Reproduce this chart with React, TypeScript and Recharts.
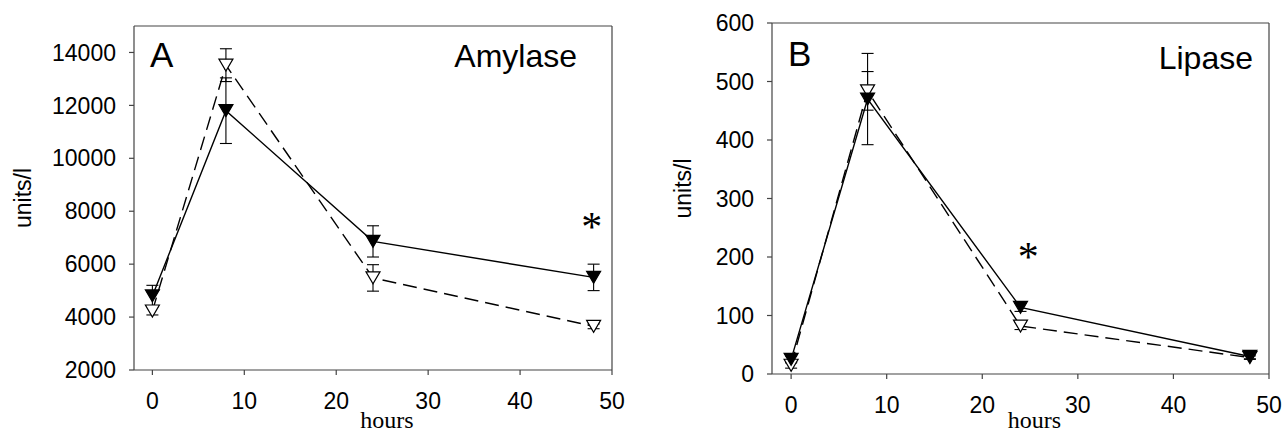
import React from 'react';
import {
  LineChart,
  Line,
  XAxis,
  YAxis,
  ErrorBar,
  ReferenceLine,
  ReferenceDot,
  Label,
} from 'recharts';

// ---------- data ----------
const hours = [0, 8, 24, 48];
const xTicks = [0, 10, 20, 30, 40, 50];

const amylaseTicks = [2000, 4000, 6000, 8000, 10000, 12000, 14000];
const amylaseSolid = [4800, 11800, 6860, 5500];
const amylaseSolidErr = [400, 1240, 590, 500];
const amylaseOpen = [4230, 13520, 5480, 3650];
const amylaseOpenErr = [150, 620, 500, 90];

const lipaseTicks = [0, 100, 200, 300, 400, 500, 600];
const lipaseSolid = [25, 470, 114, 30];
const lipaseSolidErr = [6, 78, 7, 4];
const lipaseOpen = [15, 484, 82, 28];
const lipaseOpenErr = [5, 33, 6, 3];

const amylaseRows = hours.map((h, i) => ({
  h,
  s: amylaseSolid[i],
  se: amylaseSolidErr[i],
  o: amylaseOpen[i],
  oe: amylaseOpenErr[i],
}));
const lipaseRows = hours.map((h, i) => ({
  h,
  s: lipaseSolid[i],
  se: lipaseSolidErr[i],
  o: lipaseOpen[i],
  oe: lipaseOpenErr[i],
}));

// ---------- styles ----------
const SANS = '"Liberation Sans", Arial, Helvetica, sans-serif';
const SERIF = '"Liberation Serif", "Times New Roman", serif';
const AXIS = '#444';

function DownTriangle(props: any) {
  const { cx, cy, filled } = props;
  if (cx == null || cy == null || isNaN(cx) || isNaN(cy)) return null;
  const hw = 7;
  const h = 6;
  return (
    <path
      d={`M${cx - hw},${cy - h}L${cx + hw},${cy - h}L${cx},${cy + h}Z`}
      fill={filled ? '#000' : '#fff'}
      stroke="#000"
      strokeWidth={1.2}
    />
  );
}

type PanelProps = {
  data: any[];
  width: number;
  height: number;
  margin: { top: number; right: number; bottom: number; left: number };
  yAxisWidth: number;
  xAxisHeight: number;
  yDomain: [number, number];
  yTicks: number[];
  letter: string;
  name: string;
  letterDy: number;
  nameDx: number;
  nameDy: number;
  star: { x: number; y: number };
  yLabelX: number;
  yLabelDy: number;
  xLabelDy: number;
};

function Panel(p: PanelProps) {
  const topLabel = (props: any) => {
    const vb = props.viewBox || {};
    return (
      <g>
        <text x={vb.x + 16} y={vb.y + p.letterDy} fontFamily={SANS} fontSize={35} fill="#000">
          {p.letter}
        </text>
        <text
          x={vb.x + vb.width - p.nameDx}
          y={vb.y + p.nameDy}
          fontFamily={SANS}
          fontSize={32}
          fill="#000"
          textAnchor="end"
        >
          {p.name}
        </text>
      </g>
    );
  };
  const yLabel = (props: any) => {
    const vb = props.viewBox || {};
    const cx = vb.x + p.yLabelX;
    const cy = vb.y + vb.height / 2 + p.yLabelDy;
    return (
      <text
        x={cx}
        y={cy}
        transform={`rotate(-90, ${cx}, ${cy})`}
        textAnchor="middle"
        dominantBaseline="central"
        fontFamily={SANS}
        fontSize={23}
        fill="#000"
      >
        units/l
      </text>
    );
  };
  const xLabel = (props: any) => {
    const vb = props.viewBox || {};
    return (
      <text
        x={vb.x + vb.width / 2 + 14}
        y={vb.y + p.xLabelDy}
        textAnchor="middle"
        fontFamily={SERIF}
        fontSize={24}
        fill="#000"
      >
        hours
      </text>
    );
  };
  const starLabel = (props: any) => {
    const vb = props.viewBox || {};
    const cx = vb.x + (vb.width || 0) / 2;
    const cy = vb.y + (vb.height || 0) / 2;
    return (
      <text x={cx} y={cy + 20} textAnchor="middle" fontFamily={SERIF} fontSize={42} fill="#000">
        *
      </text>
    );
  };

  return (
    <LineChart width={p.width} height={p.height} data={p.data} margin={p.margin}>
      <XAxis
        dataKey="h"
        type="number"
        domain={[-2, 50]}
        ticks={xTicks}
        interval={0}
        allowDataOverflow
        height={p.xAxisHeight}
        tickSize={5}
        tickMargin={18}
        axisLine={{ stroke: AXIS, strokeWidth: 1.2 }}
        tickLine={{ stroke: AXIS, strokeWidth: 1.2 }}
        tick={{ fill: '#000', fontSize: 23, fontFamily: SANS }}
      >
        <Label content={xLabel} />
      </XAxis>
      <YAxis
        type="number"
        domain={p.yDomain}
        ticks={p.yTicks}
        interval={0}
        allowDataOverflow
        width={p.yAxisWidth}
        tickSize={5}
        tickMargin={13}
        axisLine={{ stroke: AXIS, strokeWidth: 1.2 }}
        tickLine={{ stroke: AXIS, strokeWidth: 1.2 }}
        tick={{ fill: '#000', fontSize: 23, fontFamily: SANS }}
      >
        <Label content={yLabel} />
      </YAxis>
      <ReferenceLine y={p.yDomain[1]} stroke={AXIS} strokeWidth={1.2} label={topLabel} />
      <ReferenceLine x={50} stroke={AXIS} strokeWidth={1.2} />
      <Line
        dataKey="o"
        stroke="#000"
        strokeWidth={1.4}
        strokeDasharray="14 7"
        isAnimationActive={false}
        activeDot={false}
        dot={(d: any) => <DownTriangle key={`o-${d.index}`} cx={d.cx} cy={d.cy} filled={false} />}
      >
        <ErrorBar dataKey="oe" width={6} stroke="#000" strokeWidth={1.1} direction="y" />
      </Line>
      <Line
        dataKey="s"
        stroke="#000"
        strokeWidth={1.4}
        isAnimationActive={false}
        activeDot={false}
        dot={(d: any) => <DownTriangle key={`s-${d.index}`} cx={d.cx} cy={d.cy} filled />}
      >
        <ErrorBar dataKey="se" width={6} stroke="#000" strokeWidth={1.1} direction="y" />
      </Line>
      <ReferenceDot x={p.star.x} y={p.star.y} r={1} fill="none" stroke="none" label={starLabel} />
    </LineChart>
  );
}

export default function App() {
  return (
    <div style={{ position: 'absolute', left: 0, top: 0, width: 1284, height: 434, background: '#fff' }}>
      <div style={{ position: 'absolute', left: 0, top: 0 }}>
        <Panel
          data={amylaseRows}
          width={640}
          height={434}
          margin={{ top: 26, right: 28, bottom: 0, left: 0 }}
          yAxisWidth={134}
          xAxisHeight={64}
          yDomain={[2000, 15000]}
          yTicks={amylaseTicks}
          letter="A"
          name="Amylase"
          letterDy={41}
          nameDx={35}
          nameDy={41}
          star={{ x: 47.8, y: 7630 }}
          yLabelX={23}
          yLabelDy={0}
          xLabelDy={58}
        />
      </div>
      <div style={{ position: 'absolute', left: 640, top: 0 }}>
        <Panel
          data={lipaseRows}
          width={644}
          height={434}
          margin={{ top: 23, right: 15, bottom: 0, left: 0 }}
          yAxisWidth={132}
          xAxisHeight={60}
          yDomain={[0, 600]}
          yTicks={lipaseTicks}
          letter="B"
          name="Lipase"
          letterDy={43}
          nameDx={16}
          nameDy={46}
          star={{ x: 24.8, y: 211 }}
          yLabelX={43}
          yLabelDy={-10}
          xLabelDy={54}
        />
      </div>
    </div>
  );
}
